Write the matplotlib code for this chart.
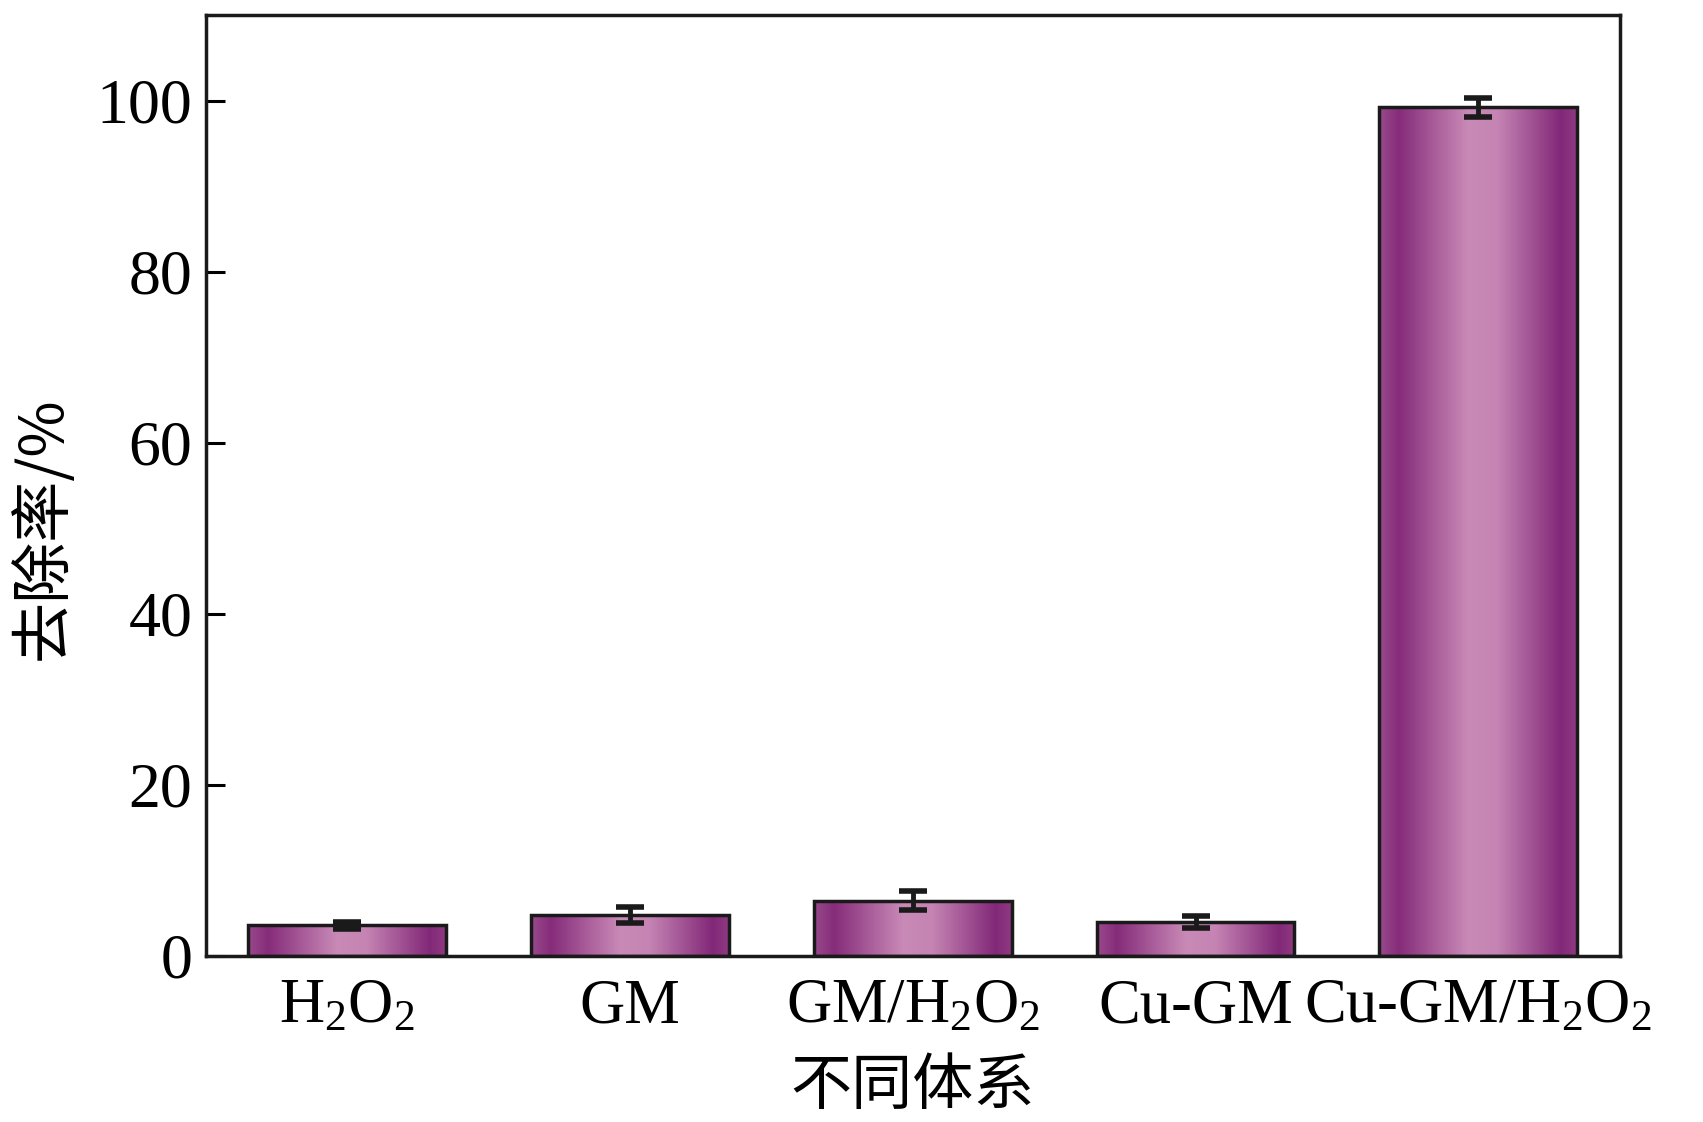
#!/usr/bin/env python3
"""
Removal rate of different systems - bar chart with gradient fill
"""

import numpy as np
import matplotlib
matplotlib.use('Agg')
import matplotlib.pyplot as plt
from matplotlib.colors import LinearSegmentedColormap

categories = [r'H$_2$O$_2$', 'GM', r'GM/H$_2$O$_2$', 'Cu-GM', r'Cu-GM/H$_2$O$_2$']
removal = [3.6, 4.8, 6.45, 3.95, 99.2]
errors = [0.4, 0.9, 1.1, 0.7, 1.15]
yticks = [0, 20, 40, 60, 80, 100]

plt.rcParams['font.family'] = ['Liberation Serif', 'Noto Sans CJK SC']
plt.rcParams['mathtext.fontset'] = 'custom'
plt.rcParams['mathtext.rm'] = 'Liberation Serif'
plt.rcParams['mathtext.it'] = 'Liberation Serif'

grad = LinearSegmentedColormap.from_list('bar_grad', [
    (0.0, '#9a4a8c'), (0.1, '#862c7a'), (0.45, '#c98ab7'),
    (0.6, '#c584b3'), (0.92, '#822878'), (1.0, '#8f3a82')])

fig = plt.figure(figsize=(17.03, 11.22), dpi=100)
ax = fig.add_axes([0.121, 0.148, 0.830, 0.8386])

x = np.arange(len(categories))
width = 0.7
bars = ax.bar(x, removal, width=width, facecolor='none', edgecolor='#1a1a1a',
              linewidth=2.5, zorder=3)

# gradient fill clipped to each bar
g = np.linspace(0, 1, 256).reshape(1, -1)
for rect in bars:
    x0 = rect.get_x()
    h = rect.get_height()
    im = ax.imshow(g, cmap=grad, aspect='auto', extent=[x0, x0 + width, 0, h],
                   zorder=2, interpolation='bicubic')
    im.set_clip_path(rect)

ax.errorbar(x, removal, yerr=errors, fmt='none', ecolor='#1a1a1a',
            elinewidth=3.5, capsize=10, capthick=4, zorder=4)

ax.set_xlim(-0.5, 4.5)
ax.set_ylim(0, 110)
ax.set_yticks(yticks)
ax.set_xticks(x)
ax.set_xticklabels(categories)

ax.tick_params(axis='y', direction='in', length=14, width=2.2, labelsize=46, pad=10)
ax.tick_params(axis='x', length=0, labelsize=45, pad=16)
for sp in ax.spines.values():
    sp.set_linewidth(2.5)
    sp.set_color('#1a1a1a')

ax.set_xlabel('不同体系', fontsize=44, family=['Noto Sans CJK SC'], labelpad=14)
ax.set_ylabel('去除率/%', fontsize=44, family=['Noto Sans CJK SC', 'Liberation Serif'])
ax.yaxis.set_label_coords(-0.093, 0.455)

plt.savefig('out.png', dpi=100)
plt.close()
